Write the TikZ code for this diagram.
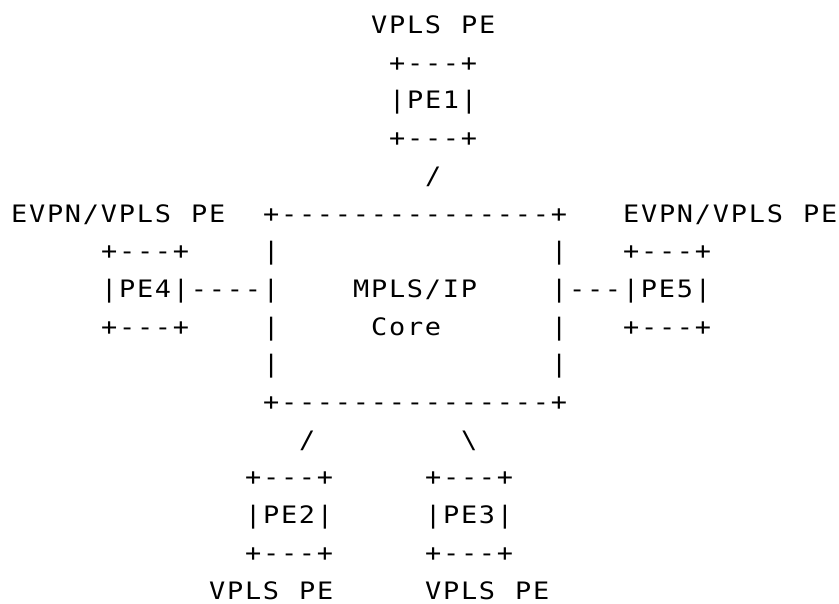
\documentclass[tikz,border=0pt]{standalone}
\usepackage{fontspec}
\setmonofont{DejaVu Sans Mono}[FakeStretch=1.12,LetterSpace=7.5,WordSpace={1.11,0,0}]
\usetikzlibrary{positioning}

\tikzset{ascii/.style={font=\fontsize{18pt}{20pt}\ttfamily,inner sep=0pt,anchor=base west,xshift=0.6pt}}

\begin{document}
\begin{tikzpicture}[x=13.5pt,y=-28.275pt]
                    \useasboundingbox (-0.556,-0.889) rectangle (46.056,15.106);

                    % PE1 on top
                    \node [ascii] (lblpeone) at (20,0) {VPLS PE};%
                    \node [ascii] (peonetop) at (21,1) {+---+};%
                    \node [ascii] (peone) at (21,2) {|PE1|};%
                    \node [ascii] (peonebot) at (21,3) {+---+};%
                    \node [ascii] (linkpeone) at (23,4) {/};%

                    % Core box
                    \node [ascii] (coretop) at (14,5) {+---------------+};%
                    \node [ascii] (coreleftA) at (14,6) {|};%
                    \node [ascii] (corerightA) at (30,6) {|};%
                    \node [ascii] (corelabel) at (19,7) {MPLS/IP};%
                    \node [ascii] (coreleftB) at (14,8) {|};%
                    \node [ascii] (corelabelb) at (20,8) {Core};%
                    \node [ascii] (corerightB) at (30,8) {|};%
                    \node [ascii] (coreleftC) at (14,9) {|};%
                    \node [ascii] (corerightC) at (30,9) {|};%
                    \node [ascii] (corebot) at (14,10) {+---------------+};%

                    % PE4 on the left
                    \node [ascii] (lblpefour) at (0,5) {EVPN/VPLS PE};%
                    \node [ascii] (pefourtop) at (5,6) {+---+};%
                    \node [ascii] (pefour) at (5,7) {|PE4|----|};%
                    \node [ascii] (pefourbot) at (5,8) {+---+};%

                    % PE5 on the right
                    \node [ascii] (lblpefive) at (34,5) {EVPN/VPLS PE};%
                    \node [ascii] (pefivetop) at (34,6) {+---+};%
                    \node [ascii] (pefive) at (30,7) {|---|PE5|};%
                    \node [ascii] (pefivebot) at (34,8) {+---+};%

                    % PE2 and PE3 below
                    \node [ascii] (linkpetwo) at (16,11) {/};%
                    \node [ascii] (linkpethree) at (25,11) {\textbackslash};%
                    \node [ascii] (petwotop) at (13,12) {+---+};%
                    \node [ascii] (petwo) at (13,13) {|PE2|};%
                    \node [ascii] (petwobot) at (13,14) {+---+};%
                    \node [ascii] (lblpetwo) at (11,15) {VPLS PE};%
                    \node [ascii] (pethreetop) at (23,12) {+---+};%
                    \node [ascii] (pethree) at (23,13) {|PE3|};%
                    \node [ascii] (pethreebot) at (23,14) {+---+};%
                    \node [ascii] (lblpethree) at (23,15) {VPLS PE};%
\end{tikzpicture}
\end{document}
